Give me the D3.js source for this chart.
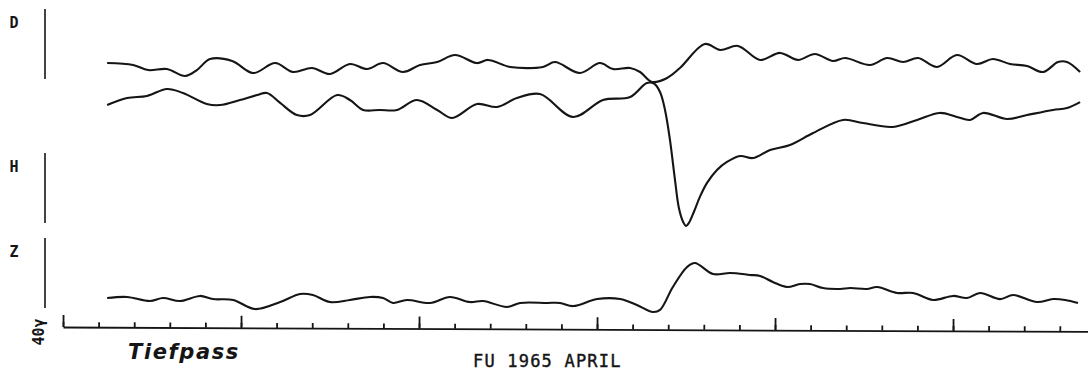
<!DOCTYPE html>
<html>
<head>
<meta charset="utf-8">
<script src="https://cdn.jsdelivr.net/npm/d3@7"></script>
<style>
  html, body { margin: 0; padding: 0; background: #fff; }
  svg { display: block; }
</style>
</head>
<body>
<figure id="mag" style="margin:0"></figure>
<script>
// channel names
const channels = ["D", "H", "Z"];

// time in hours (one tick = one hour), values in gamma above the foot of each scale bar
const tD = [1.24, 1.97, 2.39, 2.92, 3.43, 3.76, 4.13, 4.75, 5.34, 5.96, 6.46, 6.99, 7.50, 8.06, 8.54, 8.99,
  9.55, 10.03, 10.51, 11.01, 11.63, 11.94, 12.56, 13.48, 13.82, 14.52, 15.08, 15.45, 15.93, 16.21, 16.55,
  16.97, 17.33, 18.03, 18.46, 18.96, 19.58, 20.14, 20.65, 21.12, 21.63, 21.97, 22.67, 23.15, 23.60, 24.02,
  24.55, 25.11, 25.67, 26.12, 26.60, 27.08, 27.53, 27.95, 28.20, 28.57];
const vD = [9.1, 8.0, 5.1, 5.7, 1.7, 5.1, 11.4, 10.3, 3.4, 9.1, 4.0, 6.3, 2.9, 8.6, 5.7, 9.1,
  4.0, 8.0, 9.7, 13.7, 9.1, 10.9, 6.9, 6.9, 9.7, 3.4, 9.1, 5.7, 6.3, 4.0, -1.7,
  0.6, 6.3, 20.0, 16.6, 18.9, 10.9, 14.9, 10.9, 14.3, 10.3, 12.0, 8.0, 12.0, 9.7, 12.0,
  6.9, 13.7, 8.6, 11.4, 8.6, 7.4, 4.0, 9.7, 9.7, 4.0];

const tH = [1.24, 1.80, 2.36, 2.92, 3.37, 4.04, 4.41, 4.97, 5.45, 5.73, 6.10, 6.57, 6.94, 7.70, 8.06, 8.43,
  8.90, 9.38, 9.94, 10.51, 10.93, 11.63, 12.19, 12.75, 13.40, 14.33, 15.17, 15.93, 16.40, 16.60, 16.77,
  16.91, 17.05, 17.19, 17.30, 17.42, 17.50, 17.58, 17.72, 17.89, 18.09, 18.37, 18.65, 19.02, 19.38, 19.86,
  20.42, 21.07, 21.91, 22.47, 23.31, 23.99, 24.63, 25.11, 25.48, 25.84, 26.52, 27.08, 27.81, 28.20, 28.57];
const vH = [67.4, 71.4, 72.6, 76.6, 74.3, 68.0, 67.4, 70.3, 73.1, 74.3, 68.6, 61.7, 61.7, 73.1, 70.3, 64.6,
  64.6, 64.6, 70.3, 64.6, 60.0, 68.0, 66.3, 71.4, 73.7, 60.6, 70.3, 72.0, 80.0, 79.7, 74.9,
  64.6, 47.4, 24.6, 8.6, 0.6, -1.7, 0.0, 6.3, 14.9, 22.9, 30.3, 34.9, 38.3, 37.1, 41.7,
  44.6, 51.4, 58.9, 57.1, 54.9, 58.9, 62.9, 60.6, 58.9, 62.9, 59.4, 61.7, 64.6, 65.7, 69.1];

const tZ = [1.24, 1.80, 2.44, 2.81, 3.29, 3.85, 4.21, 4.78, 5.39, 6.10, 6.66, 7.02, 7.50, 8.06, 8.62, 8.99,
  9.27, 9.66, 10.31, 10.87, 11.43, 11.80, 12.47, 12.84, 13.60, 13.96, 14.33, 15.00, 15.65, 16.12, 16.57,
  16.77, 17.13, 17.53, 17.75, 18.26, 18.74, 19.30, 19.58, 19.94, 20.34, 20.70, 20.98, 21.35, 21.83, 22.11,
  22.58, 22.87, 23.43, 23.88, 24.44, 25.00, 25.39, 25.76, 26.32, 26.69, 27.36, 27.81, 28.15, 28.51];
const vZ = [5.7, 6.3, 4.0, 5.7, 4.0, 6.9, 5.1, 4.6, -0.6, 3.4, 8.0, 7.4, 3.4, 4.6, 6.3, 5.7,
  2.9, 4.6, 2.9, 6.3, 3.4, 4.0, 0.6, 2.9, 2.9, 2.9, 1.1, 5.1, 5.1, 1.7, -2.3,
  -1.1, 12.0, 23.4, 25.7, 19.4, 20.0, 18.9, 18.3, 14.9, 12.0, 13.7, 13.7, 11.4, 10.9, 11.4,
  10.9, 12.0, 8.6, 8.6, 4.6, 6.9, 5.7, 8.6, 5.1, 7.4, 3.4, 5.1, 4.6, 2.9];

// hour ticks, every fifth is long
const hourTicks = [0, 1, 2, 3, 4, 5, 6, 7, 8, 9, 10, 11, 12, 13, 14, 15, 16, 17, 18, 19, 20, 21, 22, 23, 24, 25, 26, 27, 28];
const longTicks = [0, 5, 10, 15, 20, 25];
const scaleBar = [0, 40]; // the 40 gamma bar

const width = 1088, height = 370;
const ink = "#151515";

const svg = d3.select("figure#mag")
  .append("svg")
  .attr("width", width)
  .attr("height", height);

const x = d3.scaleLinear().domain([0, 28.8]).range([63, 1088.3]);

// one y scale per channel, 40 gamma = length of the bar on the left
const panels = [
  { name: channels[0], t: tD, v: vD, y: d3.scaleLinear().domain(scaleBar).range([79, 9]) },
  { name: channels[1], t: tH, v: vH, y: d3.scaleLinear().domain(scaleBar).range([223, 153]) },
  { name: channels[2], t: tZ, v: vZ, y: d3.scaleLinear().domain(scaleBar).range([308, 238]) }
];

panels.forEach(p => {
  // scale bar
  svg.append("line")
    .attr("x1", 45).attr("x2", 45)
    .attr("y1", p.y(scaleBar[0])).attr("y2", p.y(scaleBar[1]))
    .attr("stroke", ink).attr("stroke-width", 1.6);

  svg.append("text")
    .attr("x", 14)
    .attr("y", p.y(scaleBar[1]) + 19)
    .attr("text-anchor", "middle")
    .attr("font-family", "DejaVu Sans Mono")
    .attr("font-size", 15)
    .attr("font-weight", "bold")
    .attr("fill", ink)
    .text(p.name);

  const line = d3.line()
    .x((d, i) => x(p.t[i]))
    .y(d => p.y(d))
    .curve(d3.curveCatmullRom.alpha(0.5));

  svg.append("path")
    .datum(p.v)
    .attr("d", line)
    .attr("fill", "none")
    .attr("stroke", ink)
    .attr("stroke-width", 2.1)
    .attr("stroke-linejoin", "round");
});

// time axis, slightly skewed like the scan
const axisG = svg.append("g")
  .attr("transform", "translate(0,327) rotate(0.25,63,0)");

axisG.append("g")
  .call(d3.axisTop(x).tickValues(hourTicks).tickSize(5).tickSizeOuter(0).tickFormat(""))
  .call(g => g.selectAll("path,line").attr("stroke", ink).attr("stroke-width", 1.8));

axisG.append("g")
  .call(d3.axisTop(x).tickValues(longTicks).tickSize(12).tickSizeOuter(0).tickFormat(""))
  .call(g => g.select(".domain").remove())
  .call(g => g.selectAll("line").attr("stroke", ink).attr("stroke-width", 1.8));

// 40 gamma label
svg.append("text")
  .attr("transform", "translate(44,332) rotate(-90)")
  .attr("text-anchor", "middle")
  .attr("font-family", "DejaVu Sans Mono")
  .attr("font-size", 15)
  .attr("font-weight", "bold")
  .attr("fill", ink)
  .text("40γ");

svg.append("text")
  .attr("x", 128)
  .attr("y", 359)
  .attr("font-family", "DejaVu Sans")
  .attr("font-style", "italic")
  .attr("font-weight", "bold")
  .attr("font-size", 21)
  .attr("letter-spacing", 1.6)
  .attr("fill", ink)
  .text("Tiefpass");

svg.append("text")
  .attr("x", 473)
  .attr("y", 367)
  .attr("font-family", "DejaVu Sans Mono")
  .attr("font-size", 17)
  .attr("letter-spacing", 1.2)
  .attr("fill", ink)
  .attr("stroke", ink)
  .attr("stroke-width", 0.4)
  .text("FU 1965 APRIL");
</script>
</body>
</html>
